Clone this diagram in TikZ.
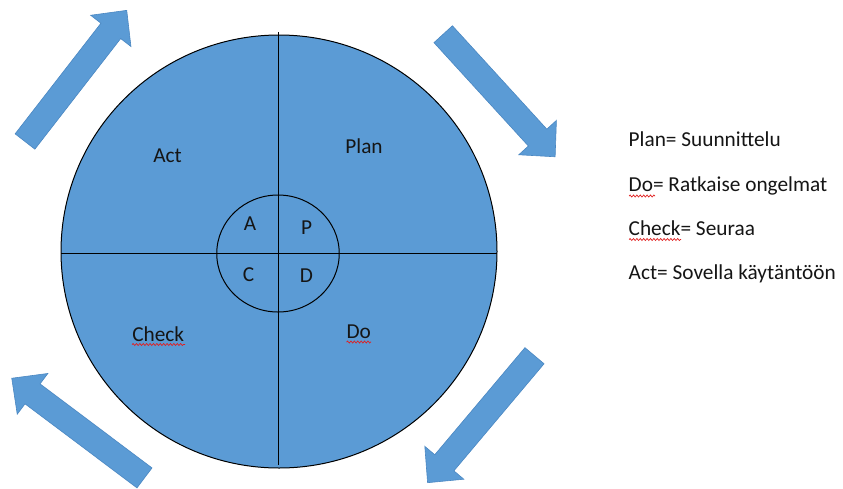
\documentclass[tikz,border=0pt]{standalone}
\usepackage{fontspec}
\setmainfont{Carlito}
\usetikzlibrary{decorations.pathmorphing,shapes.geometric}
\definecolor{pdcablue}{HTML}{5B9BD5}
\definecolor{pdcaedge}{HTML}{4A87C2}
\definecolor{inkdark}{HTML}{151515}
\definecolor{spellred}{HTML}{E02020}
\tikzset{
  blockarrow/.style={fill=pdcablue, draw=pdcaedge, line width=0.6pt, line join=miter},
  divider/.style={draw=black, line width=0.9pt},
  label/.style={inner sep=0pt, text=inkdark, font=\fontsize{21.3}{25}\selectfont},
  legend/.style={label, anchor=base west},
  squiggle/.style={draw=spellred, line width=0.7pt,
    decorate, decoration={snake, amplitude=1pt, segment length=3.4pt}}
}
% block arrow pointing along +x, tail centred at the origin
\newcommand{\pdcaarrow}[3]{%
  \path[blockarrow, shift={(#1,#2)}, rotate=#3]
    (0,-12.5) -- (140,-12.5) -- (140,-25.5) -- (166,0) -- (140,25.5)
    -- (140,12.5) -- (0,12.5) -- cycle;}
\begin{document}
\begin{tikzpicture}[x=1pt, y=-1pt]
  \useasboundingbox (0,0) rectangle (843,488);
  \clip (0,0) rectangle (843,488);

  % cycle arrows around the wheel
  \pdcaarrow{25}{141.5}{52.2}
  \pdcaarrow{443.2}{34.2}{-47.6}
  \pdcaarrow{534.5}{355.7}{-130.1}
  \pdcaarrow{144.5}{477.9}{143.1}

  % outer wheel and its quadrants
  \node[draw=black, line width=1pt, fill=pdcablue, ellipse, inner sep=0pt,
        minimum width=436pt, minimum height=433pt] (wheel) at (279,251.5) {};
  \coordinate (wtop) at (278.5,32);
  \coordinate (wbot) at (278.5,465);
  \coordinate (wleft) at (61,253);
  \coordinate (wright) at (497,253);
  \draw[divider] (wtop) -- (wbot);
  \draw[divider] (wleft) -- (wright);

  % inner hub
  \node[draw=black, line width=1pt, ellipse, inner sep=0pt,
        minimum width=122.5pt, minimum height=117pt] (hub) at (278,253.5) {};

  % quadrant labels
  \node[label, anchor=base] (act)   at (167.5,162.3) {Act};
  \node[label, anchor=base] (plan)  at (364,153.3) {Plan};
  \node[label, anchor=base] (check) at (158.2,341.7) {Check};
  \node[label, anchor=base] (do)    at (358.7,338.3) {Do};
  \node[label, anchor=base] (a) at (250,230.7) {A};
  \node[label, anchor=base] (p) at (306.5,234) {P};
  \node[label, anchor=base] (c) at (248.5,281.7) {C};
  \node[label, anchor=base] (d) at (306.5,282.7) {D};

  % legend
  \node[legend] (lplan)  at (628.5,146) {Plan= Suunnittelu};
  \node[legend] (ldo)    at (628.5,191.7) {Do= Ratkaise ongelmat};
  \node[legend] (lcheck) at (628.5,235) {Check= Seuraa};
  \node[legend] (lact)   at (628.5,279.3) {Act= Sovella käytäntöön};

  % spell-check marks
  \draw[squiggle] (132,344.5) -- (185,344.5);
  \draw[squiggle] (346.5,342) -- (371,342);
  \draw[squiggle] (629,196) -- (655,196);
  \draw[squiggle] (629,239.5) -- (681,239.5);
\end{tikzpicture}
\end{document}
